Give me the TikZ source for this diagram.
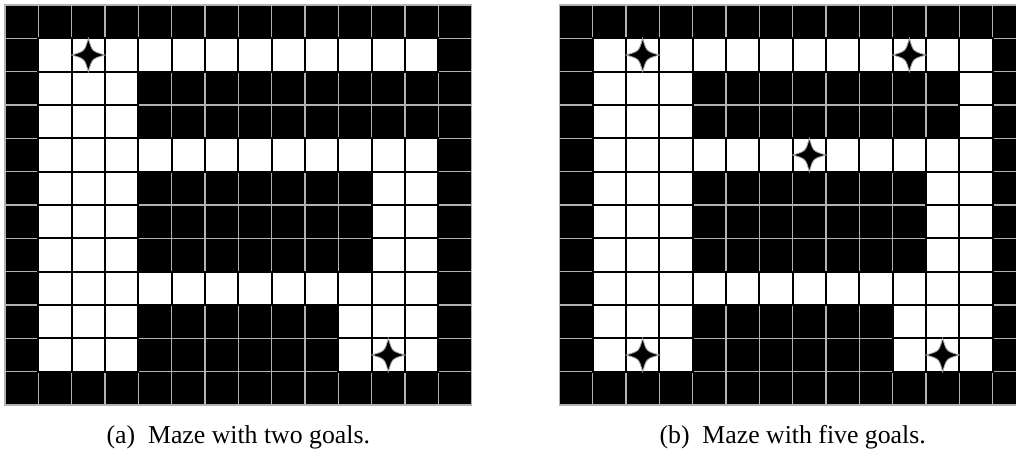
\documentclass[tikz,border=0pt]{standalone}
\usepackage{fontspec}
\setmainfont{Liberation Serif}
\usetikzlibrary{positioning}
\tikzset{
  wallcell/.style = {fill=black, draw=gray!60, line width=1.3pt},
  freecell/.style = {fill=white, draw=black, line width=1.6pt},
  caplab/.style   = {font=\fontsize{22}{26}\selectfont, anchor=base},
  goal/.pic       = {
    \draw[fill=black, draw=gray!70, line width=0.7pt]
      (0,0.5) .. controls (0.11,0.11) .. (0.5,0)
      .. controls (0.11,-0.11) .. (0,-0.5)
      .. controls (-0.11,-0.11) .. (-0.5,0)
      .. controls (-0.11,0.11) .. cycle;
  },
}

\begin{document}
\begin{tikzpicture}
  \useasboundingbox (-0.15,0.15) rectangle (30.33,-13.38);
  \clip (-0.15,0.15) rectangle (30.33,-13.38);
  % maze with two goals
  \begin{scope}
    \foreach \c in {0,...,13} \foreach \r in {0,...,11}
      \draw[wallcell] (\c,-\r) rectangle ++(1,-1);
    \foreach \r/\a/\b in {1/1/12, 2/1/3, 3/1/3, 4/1/12, 5/1/3, 5/11/12,
                          6/1/3, 6/11/12, 7/1/3, 7/11/12, 8/1/12,
                          9/1/3, 9/10/12, 10/1/3, 10/10/12}
      \foreach \c in {\a,...,\b}
        \draw[freecell] (\c,-\r) rectangle ++(1,-1);
    \pic (goalA1) at (2.5,-1.5) {goal};
    \pic (goalA2) at (11.5,-10.5) {goal};
    \node[caplab] (capA) at (7,-13.14) {(a)\enskip Maze with two goals.};
  \end{scope}
  % maze with five goals
  \begin{scope}[xshift=16.63cm]
    \foreach \c in {0,...,13} \foreach \r in {0,...,11}
      \draw[wallcell] (\c,-\r) rectangle ++(1,-1);
    \foreach \r/\a/\b in {1/1/12, 2/1/3, 2/12/12, 3/1/3, 3/12/12, 4/1/12,
                          5/1/3, 5/11/12, 6/1/3, 6/11/12, 7/1/3, 7/11/12,
                          8/1/12, 9/1/3, 9/10/12, 10/1/3, 10/10/12}
      \foreach \c in {\a,...,\b}
        \draw[freecell] (\c,-\r) rectangle ++(1,-1);
    \pic (goalB1) at (2.5,-1.5) {goal};
    \pic (goalB2) at (10.5,-1.5) {goal};
    \pic (goalB3) at (7.5,-4.5) {goal};
    \pic (goalB4) at (2.5,-10.5) {goal};
    \pic (goalB5) at (11.5,-10.5) {goal};
    \node[caplab] (capB) at (7,-13.14) {(b)\enskip Maze with five goals.};
  \end{scope}
\end{tikzpicture}
\end{document}
